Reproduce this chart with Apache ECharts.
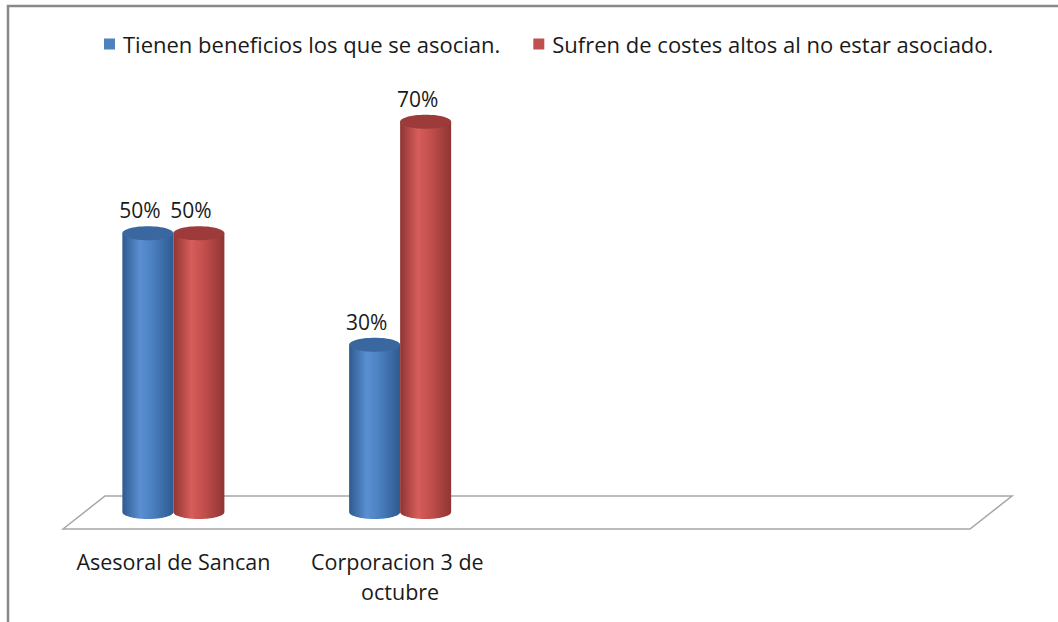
<!DOCTYPE html>
<html>
<head>
<meta charset="utf-8">
<script src="https://cdn.jsdelivr.net/npm/echarts@6/dist/echarts.min.js"></script>
<style>html,body{margin:0;padding:0;background:#fff;}#c{width:1058px;height:622px;}</style>
</head>
<body>
<div id="c"></div>
<script>
const categories = ['Asesoral de Sancan', 'Corporacion 3 de octubre', '', ''];
const seriesNames = ['Tienen beneficios los que se asocian.', 'Sufren de costes altos al no estar asociado.'];
const benefitValues = [50, 30];
const costValues = [50, 70];

const FONT = 'Open Sans';
const palettes = [
  { legend: '#4f81bd', edge: '#2f5a8f', light: '#5a90d2', mid: '#4a7fc0', top: '#3a679f' },
  { legend: '#c0504d', edge: '#8f3533', light: '#d65d5a', mid: '#c24f4c', top: '#9c3b39' }
];

function ellipsePts(cx, cy, rx, ry, a0, a1, n) {
  const pts = [];
  for (let i = 0; i <= n; i++) {
    const a = a0 + (a1 - a0) * i / n;
    pts.push([cx + rx * Math.cos(a), cy + ry * Math.sin(a)]);
  }
  return pts;
}

function makeRender(si) {
  return function (params, api) {
    const cat = api.value(0), v = api.value(1);
    const top = api.coord([cat, v]);
    const base = api.coord([cat, 0]);
    const band = api.size([1, 0])[0];
    const bw = band * 0.225;
    const rx = bw / 2, ry = 7;
    const cx = top[0] + (si === 0 ? -bw / 2 : bw / 2);
    const p = palettes[si];
    const grad = new echarts.graphic.LinearGradient(0, 0, 1, 0, [
      { offset: 0, color: p.edge }, { offset: 0.35, color: p.light },
      { offset: 0.6, color: p.mid }, { offset: 1, color: p.edge }
    ]);
    const lowerArc = ellipsePts(cx, base[1], rx, ry, Math.PI, 0, 40);
    for (const q of lowerArc) q[1] = base[1] + Math.abs(q[1] - base[1]);
    const bodyPts = [[cx - rx, top[1]]].concat(lowerArc).concat([[cx + rx, top[1]]]);
    const topPts = ellipsePts(cx, top[1], rx, ry, 0, Math.PI * 2, 60);
    return {
      type: 'group',
      children: [
        { type: 'polygon', shape: { points: bodyPts }, style: { fill: grad } },
        { type: 'polygon', shape: { points: topPts }, style: { fill: p.top } },
        { type: 'text', style: { text: v + '%', x: cx - 8, y: top[1] - 23, textAlign: 'center', textVerticalAlign: 'middle', fill: '#1a1a1a', font: '21px "' + FONT + '"' } }
      ]
    };
  };
}

const chart = echarts.init(document.getElementById('c'), null, { renderer: 'svg' });
const option = {
  animation: false,
  backgroundColor: '#fff',
  legend: {
    top: 28, left: 99, itemGap: 33, icon: 'rect', itemWidth: 11, itemHeight: 11,
    textStyle: { fontFamily: FONT, fontSize: 22, color: '#1a1a1a', padding: [0, 0, 0, 3] },
    data: seriesNames
  },
  grid: { left: 60, right: 91, top: 66, bottom: 110, containLabel: false },
  xAxis: {
    type: 'category', data: categories,
    axisLine: { show: false }, axisTick: { show: false }, splitLine: { show: false },
    axisLabel: { margin: 34, fontFamily: FONT, fontSize: 21.5, color: '#1a1a1a', lineHeight: 30, width: 215, overflow: 'break', interval: 0 }
  },
  yAxis: { type: 'value', min: 0, max: 80, show: false },
  series: [
    { name: seriesNames[0], type: 'custom', itemStyle: { color: palettes[0].legend }, renderItem: makeRender(0), data: benefitValues.map((v, i) => [i, v]), z: 3 },
    { name: seriesNames[1], type: 'custom', itemStyle: { color: palettes[1].legend }, renderItem: makeRender(1), data: costValues.map((v, i) => [i, v]), z: 3 }
  ]
};
chart.setOption(option);

// floor plane and frame, positioned from the axis scales
const c0 = chart.convertToPixel({ xAxisIndex: 0 }, 0);
const c1 = chart.convertToPixel({ xAxisIndex: 0 }, 1);
const bandW = c1 - c0;
const leftX = c0 - bandW / 2;
const rightX = c0 + bandW * (categories.length - 0.5);
const y0 = chart.convertToPixel({ yAxisIndex: 0 }, 0);
chart.setOption({
  graphic: [
    { type: 'polygon', z: 1, shape: { points: [[leftX + 3, y0 + 17], [leftX + 45, y0 - 16], [rightX + 45, y0 - 16], [rightX + 3, y0 + 17]] }, style: { fill: '#fff', stroke: '#a6a6a6', lineWidth: 1.5 } },
    { type: 'polyline', z: 1, shape: { points: [[8, 622], [8, 6], [1058, 6]] }, style: { fill: null, stroke: '#888', lineWidth: 2.5 } }
  ]
});
</script>
</body>
</html>
